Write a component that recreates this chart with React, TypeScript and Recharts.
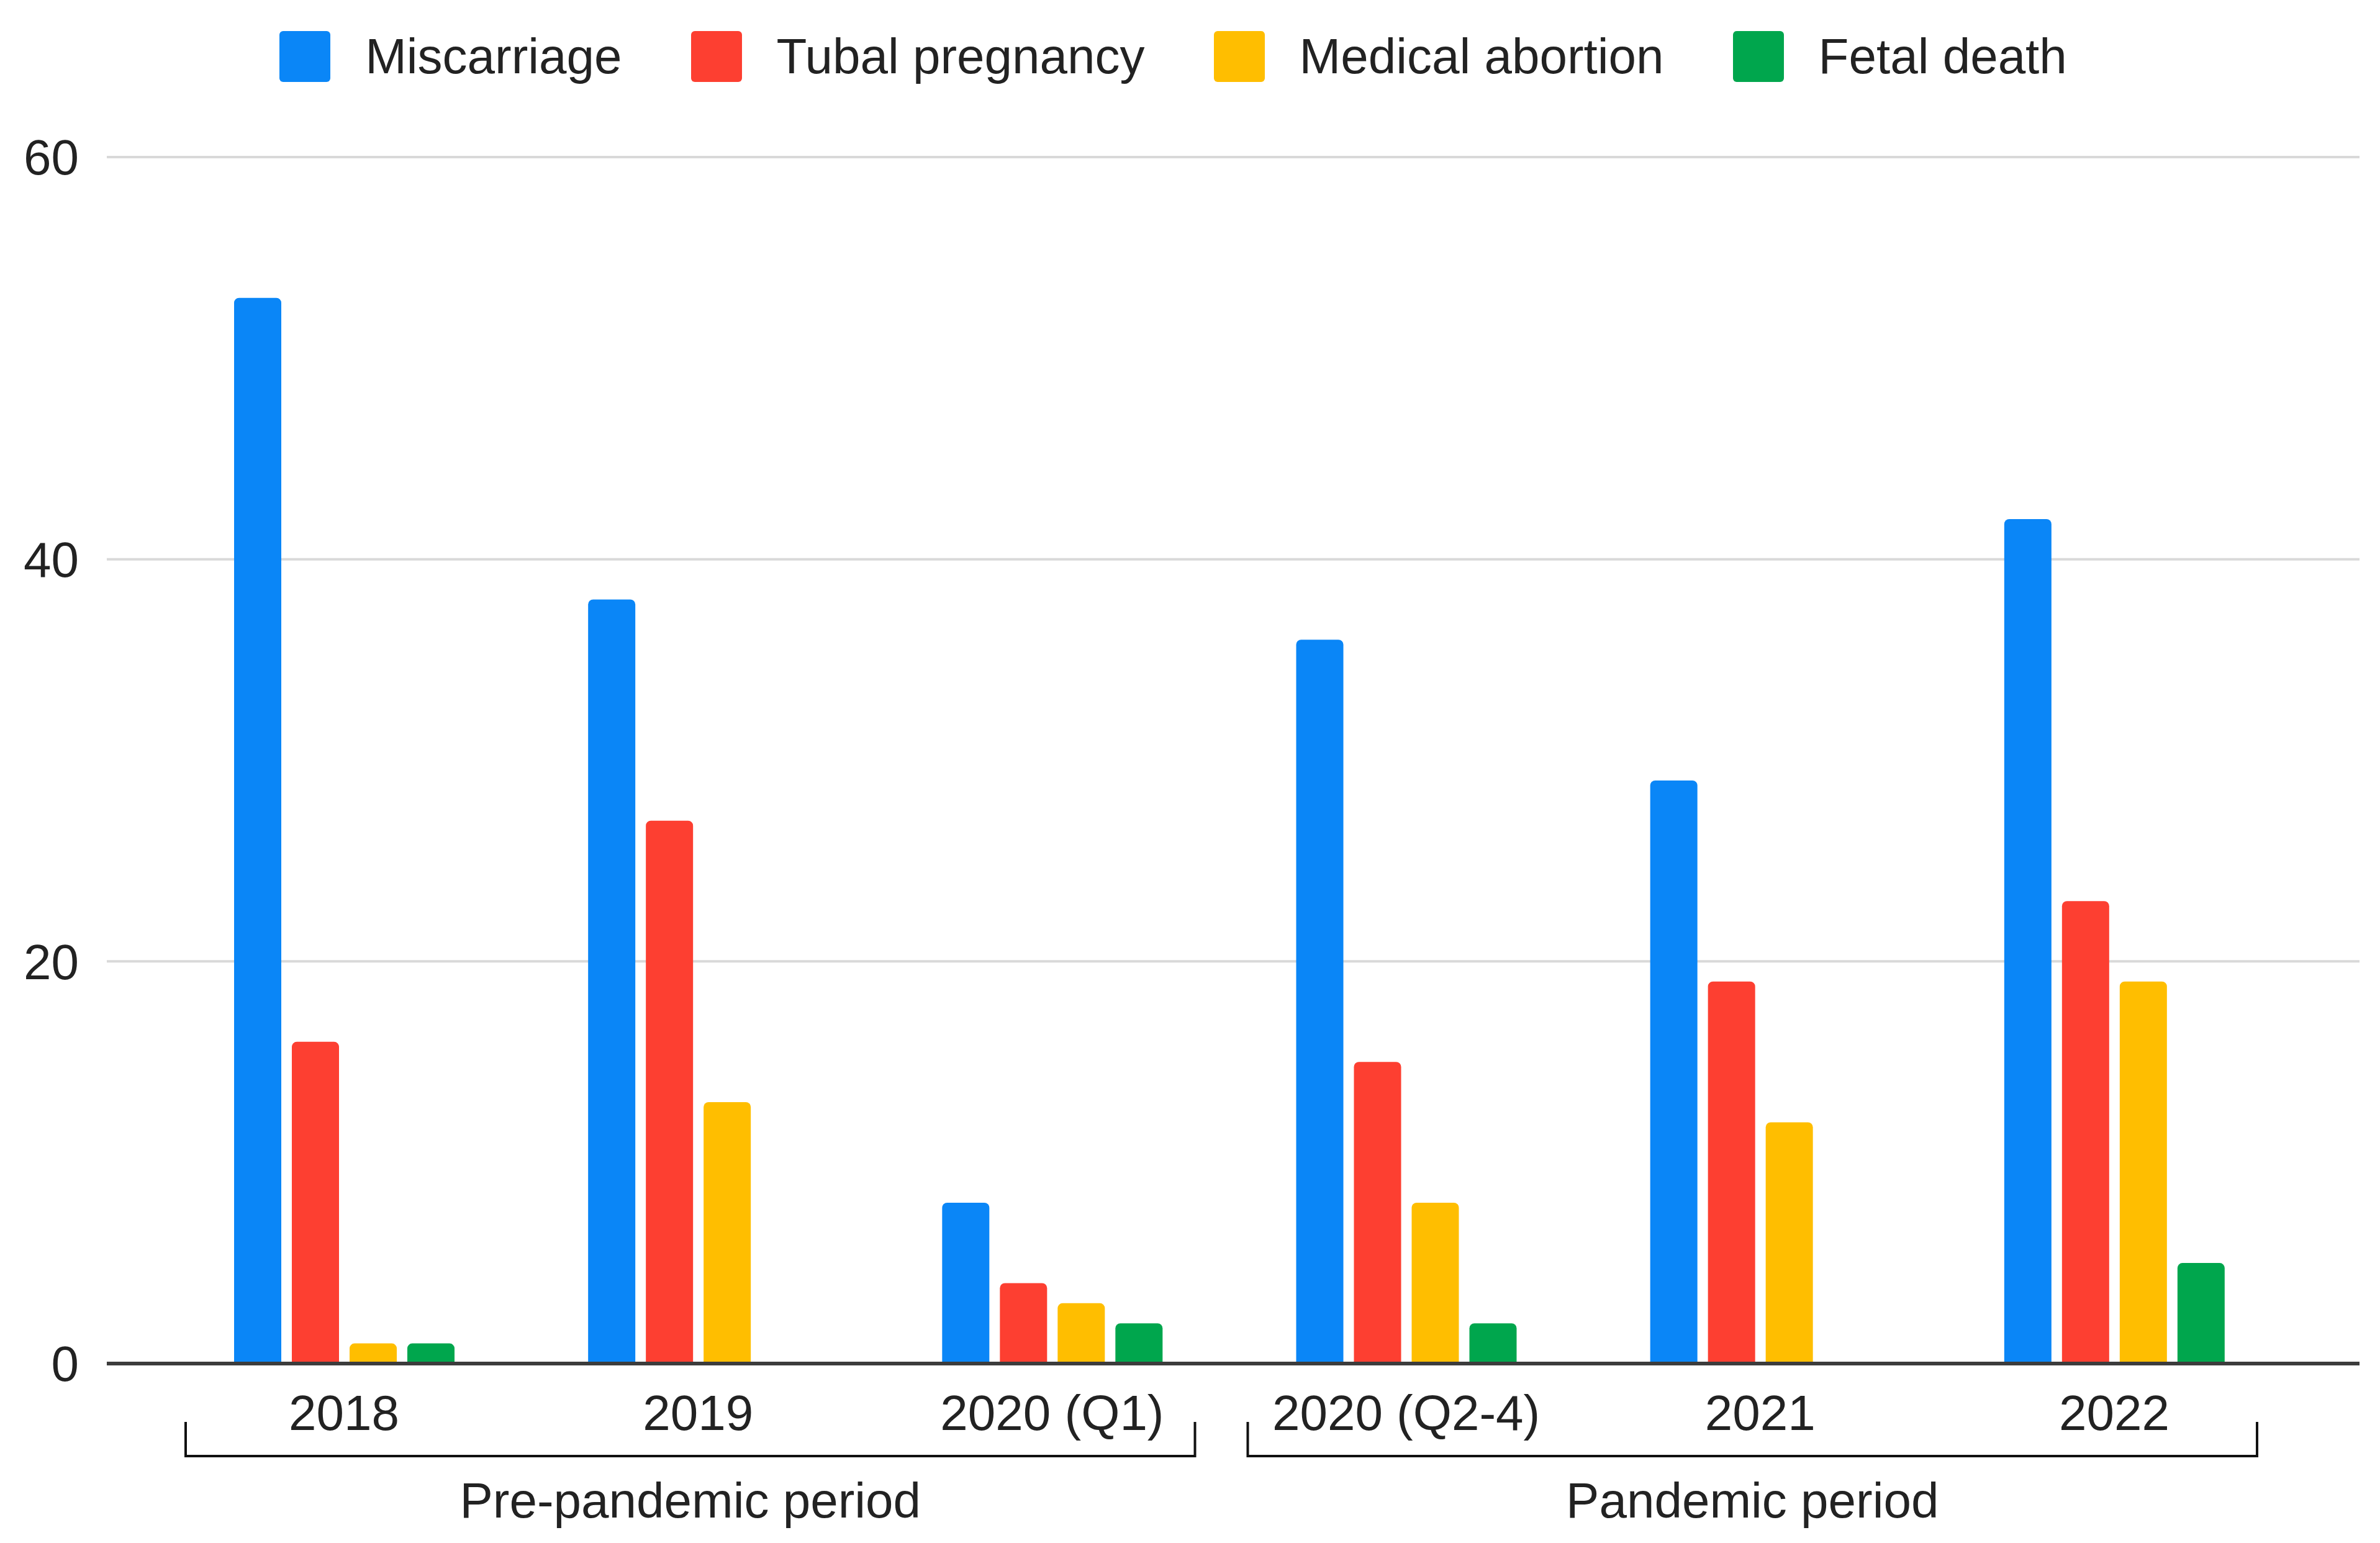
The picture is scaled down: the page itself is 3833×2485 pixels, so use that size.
import React from "react";
import { BarChart, Bar, XAxis, YAxis, CartesianGrid, ReferenceLine } from "recharts";

const categories = ["2018", "2019", "2020 (Q1)", "2020 (Q2-4)", "2021", "2022"];
const miscarriage = [53, 38, 8, 36, 29, 42];
const tubalPregnancy = [16, 27, 4, 15, 19, 23];
const medicalAbortion = [1, 13, 3, 8, 12, 19];
const fetalDeath = [1, 0, 2, 2, 0, 5];
const yTicks = [0, 20, 40, 60];

const seriesNames = ["Miscarriage", "Tubal pregnancy", "Medical abortion", "Fetal death"];
const seriesKeys = ["miscarriage", "tubal", "medical", "fetal"];
const seriesColors = ["#0a86f7", "#fd3f31", "#ffbe00", "#00a64d"];

const periods = [
  { label: "Pre-pandemic period", from: 0, to: 3 },
  { label: "Pandemic period", from: 3, to: 6 },
];

const data = categories.map((c, i) => ({
  name: c,
  miscarriage: miscarriage[i],
  tubal: tubalPregnancy[i],
  medical: medicalAbortion[i],
  fetal: fetalDeath[i],
}));

const W = 3833;
const H = 2485;
const X_AXIS_H = 30;
const MARGIN = { top: 253, right: 33, bottom: 259, left: 0 };
const Y_AXIS_W = 172;
const PAD_L = 97;
const PAD_R = 110;
const PLOT_LEFT = MARGIN.left + Y_AXIS_W;
const PLOT_RIGHT = W - MARGIN.right;
const BAND = (PLOT_RIGHT - PLOT_LEFT - PAD_L - PAD_R) / categories.length;
const BAND_START = PLOT_LEFT + PAD_L;

const FONT = "Arial, 'Liberation Sans', sans-serif";
const TEXT = "#222222";

export default function App() {
  return (
    <div style={{ position: "relative", width: W, height: H, background: "#fff", fontFamily: FONT }}>
      <style>{`body{margin:0;background:#fff}`}</style>
      <BarChart width={W} height={H} data={data} margin={MARGIN} barSize={76} barGap={17}>
        <CartesianGrid vertical={false} stroke="#d9d9d9" strokeWidth={4} />
        <XAxis
          dataKey="name"
          height={X_AXIS_H}
          axisLine={false}
          tickLine={false}
          tickSize={0}
          tickMargin={50}
          padding={{ left: PAD_L, right: PAD_R }}
          tick={{ fill: TEXT, fontSize: 80, fontFamily: FONT }}
          interval={0}
        />
        <YAxis
          width={Y_AXIS_W}
          domain={[0, 60]}
          ticks={yTicks}
          axisLine={false}
          tickLine={false}
          tickSize={0}
          tickMargin={45}
          tick={{ fill: TEXT, fontSize: 80, fontFamily: FONT }}
        />
        {seriesKeys.map((k, i) => (
          <Bar key={k} dataKey={k} name={seriesNames[i]} fill={seriesColors[i]} radius={[8, 8, 0, 0]} isAnimationActive={false} />
        ))}
        <ReferenceLine y={0} stroke="#3c3c3c" strokeWidth={6} />
      </BarChart>

      {/* Legend */}
      <div
        style={{
          position: "absolute",
          top: 50,
          left: 0,
          width: W,
          height: 82,
          display: "flex",
          justifyContent: "center",
          alignItems: "center",
          paddingRight: 54,
          boxSizing: "border-box",
        }}
      >
        {seriesNames.map((n, i) => (
          <div key={n} style={{ display: "flex", alignItems: "center", marginRight: i < seriesNames.length - 1 ? 111 : 0 }}>
            <div style={{ width: 82, height: 82, background: seriesColors[i], borderRadius: 6, marginRight: 56 }} />
            <span style={{ fontSize: 80, color: TEXT, lineHeight: "82px", whiteSpace: "nowrap" }}>{n}</span>
          </div>
        ))}
      </div>

      {/* Period brackets */}
      <svg width={W} height={H} style={{ position: "absolute", left: 0, top: 0, pointerEvents: "none" }}>
        {periods.map((p) => {
          const x1 = BAND_START + p.from * BAND + 30;
          const x2 = BAND_START + p.to * BAND - 55;
          const yTop = 2290;
          const yBot = 2345;
          return (
            <g key={p.label}>
              <path d={`M${x1},${yTop} L${x1},${yBot} L${x2},${yBot} L${x2},${yTop}`} fill="none" stroke="#111" strokeWidth={4} />
              <text x={(x1 + x2) / 2} y={2444} textAnchor="middle" fontSize={80} fontFamily={FONT} fill={TEXT}>
                {p.label}
              </text>
            </g>
          );
        })}
      </svg>
    </div>
  );
}
